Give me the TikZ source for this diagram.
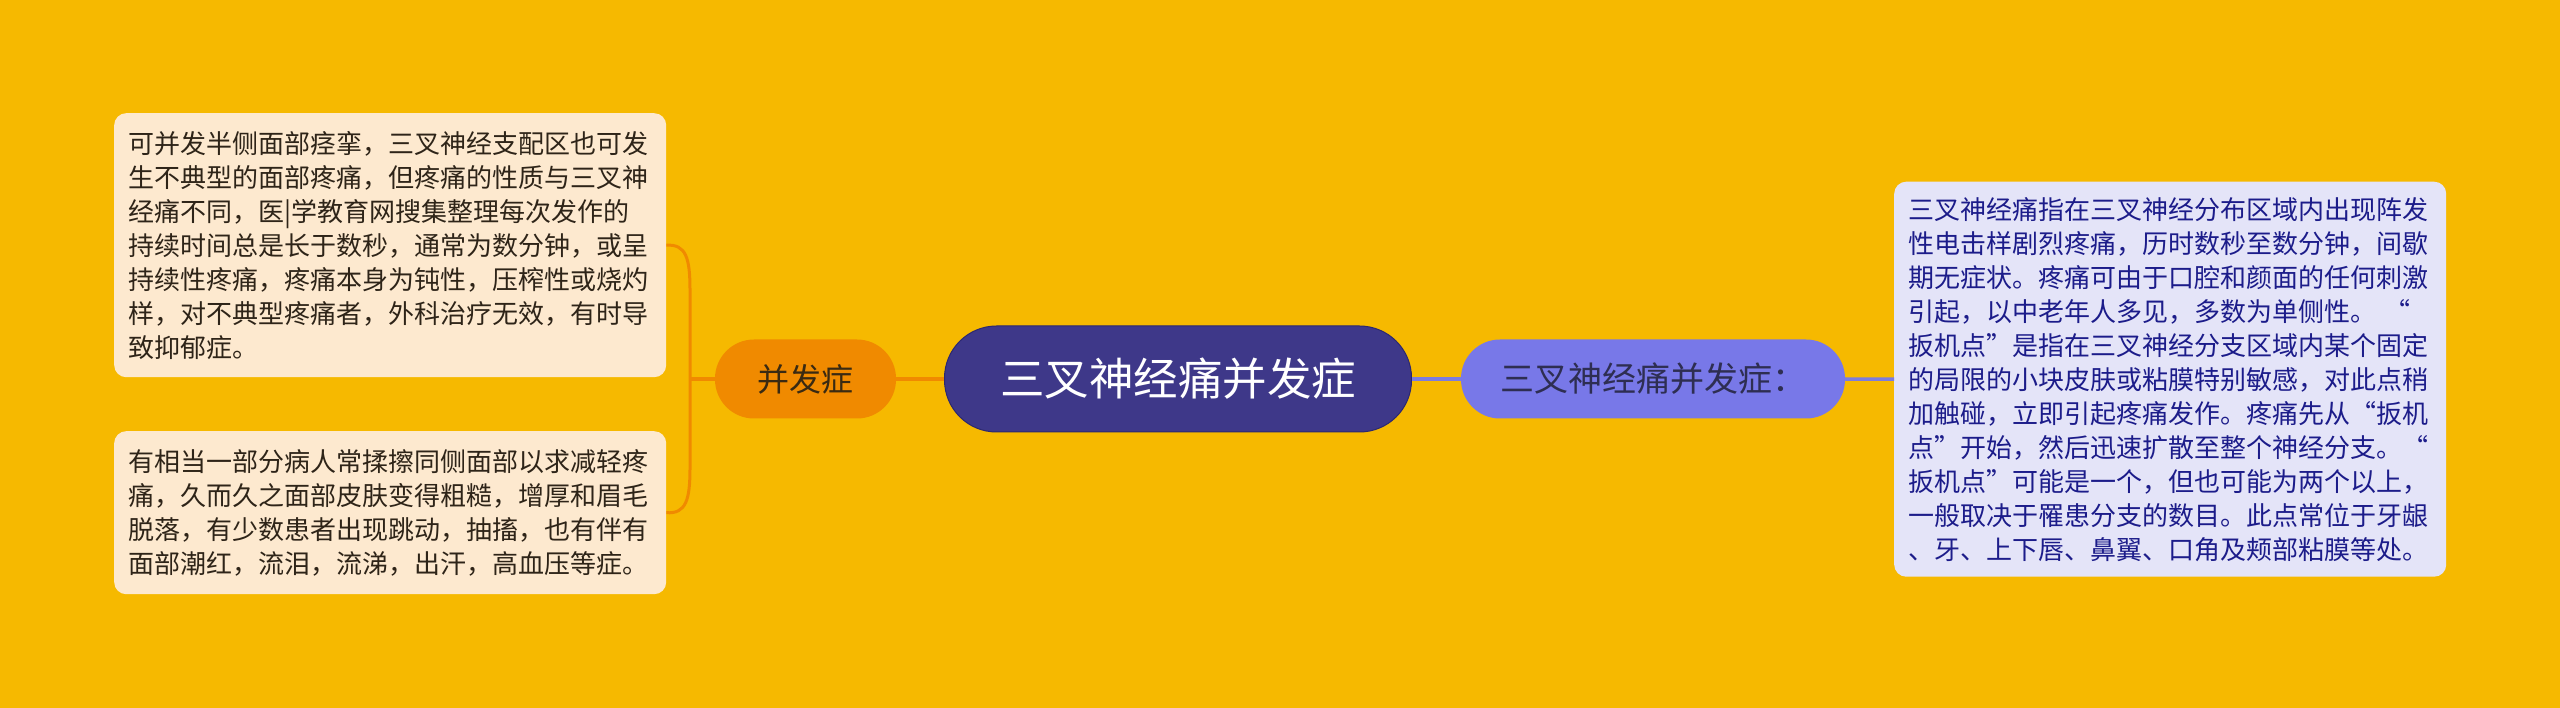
\documentclass[tikz,border=0pt]{standalone}
\usepackage{fontspec}
\newfontfamily\cjk{Noto Sans CJK SC}
\definecolor{bg}{HTML}{F6B900}
\definecolor{rootfill}{HTML}{3E3889}
\definecolor{rootdraw}{HTML}{2C2870}
\definecolor{orangefill}{HTML}{F08A00}
\definecolor{orangetext}{HTML}{3A2A12}
\definecolor{leafLfill}{HTML}{FDE9CF}
\definecolor{leafLtext}{HTML}{2E2418}
\definecolor{purplefill}{HTML}{7878E8}
\definecolor{purpletext}{HTML}{2E2E52}
\definecolor{leafRfill}{HTML}{E4E4F8}
\definecolor{leafRtext}{HTML}{1C1C8A}
\definecolor{purpleline}{HTML}{7C7CDE}
\tikzset{
  rootnode/.style={fill=rootfill, draw=rootdraw, line width=1pt, rounded corners=52pt,
    minimum width=467pt, minimum height=106pt, inner sep=0pt, text=white,
    font=\cjk\fontsize{44.5}{50}\selectfont},
  subL/.style={fill=orangefill, rounded corners=39pt, minimum width=181pt,
    minimum height=79pt, inner sep=0pt, text=orangetext, font=\cjk\fontsize{32}{38}\selectfont},
  subR/.style={fill=purplefill, rounded corners=39pt, minimum width=384pt,
    minimum height=79pt, inner sep=0pt, text=purpletext, font=\cjk\fontsize{34}{40}\selectfont},
  leafbox/.style={rounded corners=12pt, font=\cjk\fontsize{26}{34}\selectfont,
    align=left, text width=524pt, inner xsep=14pt, inner ysep=0pt, anchor=north west},
  leafL/.style={leafbox, fill=leafLfill, text=leafLtext},
  leafR/.style={leafbox, fill=leafRfill, text=leafRtext},
  oline/.style={draw=orangefill, line width=3.5pt},
  pline/.style={draw=purpleline, line width=3.5pt},
}
\begin{document}
\begin{tikzpicture}[x=1pt,y=-1pt]
\useasboundingbox (0,0) rectangle (2560,708);
\fill[bg] (0,0) rectangle (2560,708);

\node[rootnode] (root) at (1178,379) {三叉神经痛并发症};
\node[subL] (lnode) at (805.5,379) {并发症};
\node[subR] (rnode) at (1653,379) {三叉神经痛并发症：};

\node[leafL, minimum height=264pt] (lbox1) at (114,113) {可并发半侧面部痉挛，三叉神经支配区也可发\\生不典型的面部疼痛，但疼痛的性质与三叉神\\经痛不同，医|学教育网搜集整理每次发作的\\持续时间总是长于数秒，通常为数分钟，或呈\\持续性疼痛，疼痛本身为钝性，压榨性或烧灼\\样，对不典型疼痛者，外科治疗无效，有时导\\致抑郁症。};
\node[leafL, minimum height=163pt] (lbox2) at (114,431) {有相当一部分病人常揉擦同侧面部以求减轻疼\\痛，久而久之面部皮肤变得粗糙，增厚和眉毛\\脱落，有少数患者出现跳动，抽搐，也有伴有\\面部潮红，流泪，流涕，出汗，高血压等症。};
\node[leafR, minimum height=395pt] (rbox) at (1894,181.5) {三叉神经痛指在三叉神经分布区域内出现阵发\\性电击样剧烈疼痛，历时数秒至数分钟，间歇\\期无症状。疼痛可由于口腔和颜面的任何刺激\\引起，以中老年人多见，多数为单侧性。 “\\扳机点”是指在三叉神经分支区域内某个固定\\的局限的小块皮肤或粘膜特别敏感，对此点稍\\加触碰，立即引起疼痛发作。疼痛先从“扳机\\点”开始，然后迅速扩散至整个神经分支。“\\扳机点”可能是一个，但也可能为两个以上，\\一般取决于罹患分支的数目。此点常位于牙龈\\、牙、上下唇、鼻翼、口角及颊部粘膜等处。};

\coordinate (j) at (690,379);
\draw[oline] (root.west) -- (lnode.east);
\draw[oline] (lnode.west) -- (j);
\draw[oline, line width=3pt] (lbox1.east) .. controls (686,244) and (690,258) .. (690,290) -- (j)
  -- (690,468) .. controls (690,500) and (686,514) .. (lbox2.east);
\draw[pline] (root.east) -- (rnode.west);
\draw[pline] (rnode.east) -- (rbox.west);
\end{tikzpicture}
\end{document}
